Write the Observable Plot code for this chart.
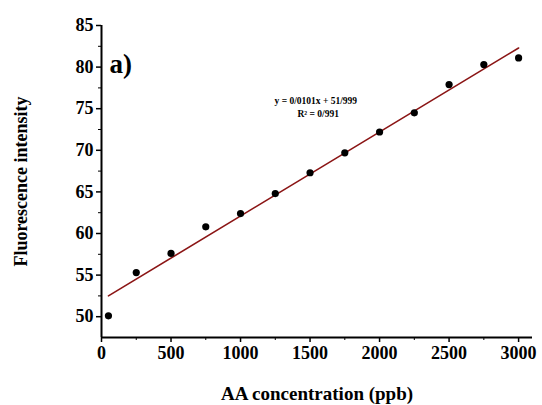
<!DOCTYPE html>
<html><head><meta charset="utf-8">
<script src="https://cdn.jsdelivr.net/npm/d3@7"></script>
<script src="https://cdn.jsdelivr.net/npm/@observablehq/plot@0.6"></script>
<style>
html,body{margin:0;padding:0;background:#fff;}
</style></head>
<body><div id="chart"></div>
<script>
const concentration = [50, 250, 500, 750, 1000, 1250, 1500, 1750, 2000, 2250, 2500, 2750, 3000];
const intensity = [50.1, 55.3, 57.6, 60.8, 62.4, 64.8, 67.3, 69.7, 72.2, 74.5, 77.9, 80.3, 81.1];
const slope = 0.0101, intercept = 51.999;
const fitX = [50, 3000];
const xTicks = [0, 500, 1000, 1500, 2000, 2500, 3000];
const xMinor = [250, 750, 1250, 1750, 2250, 2750];
const yTicks = [50, 55, 60, 65, 70, 75, 80, 85];
const yMinor = [52.5, 57.5, 62.5, 67.5, 72.5, 77.5, 82.5];
const eqLines = ["y = 0/0101x + 51/999", "R² = 0/991"];
const panelLabel = "a)";
const xLabel = "AA concentration (ppb)";
const yLabel = "Fluorescence intensity";

const points = concentration.map((c, i) => ({c, v: intensity[i]}));
const fit = fitX.map(c => ({c, v: slope * c + intercept}));
const xDom = [0, 3100], yDom = [47.5, 85];

const chart = Plot.plot({
  width: 542, height: 405,
  marginLeft: 101, marginRight: 10, marginTop: 25, marginBottom: 68,
  style: {fontFamily: "'Liberation Serif', 'Times New Roman', serif", fontWeight: "bold", fontSize: "18px", color: "#000", background: "#fff"},
  x: {domain: xDom},
  y: {domain: yDom},
  marks: [
    Plot.axisX({ticks: xTicks, tickSize: 5, tickPadding: 4, tickFormat: d => String(d), label: null, fontSize: 18, fontWeight: "bold", strokeWidth: 1.5}),
    Plot.axisX({ticks: xMinor, tickSize: 3, text: null, label: null}),
    Plot.axisY({ticks: yTicks, tickSize: 5, tickPadding: 3, label: null, fontSize: 18, fontWeight: "bold", strokeWidth: 1.5}),
    Plot.axisY({ticks: yMinor, tickSize: 3, text: null, label: null}),
    Plot.ruleY([yDom[0]], {stroke: "#000", strokeWidth: 2}),
    Plot.ruleX([xDom[0]], {stroke: "#000", strokeWidth: 2}),
    Plot.line(fit, {x: "c", y: "v", stroke: "#8b1515", strokeWidth: 1.6}),
    Plot.dot(points, {x: "c", y: "v", r: 3.6, fill: "#000", stroke: null}),
    Plot.text([eqLines[0]], {frameAnchor: "top-left", dx: 173, dy: 72, text: d => d, textAnchor: "start", fontSize: 9.5, fontWeight: "bold"}),
    Plot.text([eqLines[1]], {frameAnchor: "top-left", dx: 196, dy: 85, text: d => d, textAnchor: "start", fontSize: 9.5, fontWeight: "bold"}),
    Plot.text([panelLabel], {frameAnchor: "top-left", dx: 8, dy: 28, text: d => d, textAnchor: "start", fontSize: 27, fontWeight: "bold", fontFamily: "'Liberation Serif', serif"}),
    Plot.text([xLabel], {frameAnchor: "bottom", dy: 62, text: d => d, fontSize: 19, fontWeight: "bold"}),
    Plot.text([yLabel], {frameAnchor: "left", dx: -80, rotate: -90, textAnchor: "middle", text: d => d, fontSize: 18, fontWeight: "bold"})
  ]
});
document.getElementById("chart").appendChild(chart);
</script>
</body></html>
